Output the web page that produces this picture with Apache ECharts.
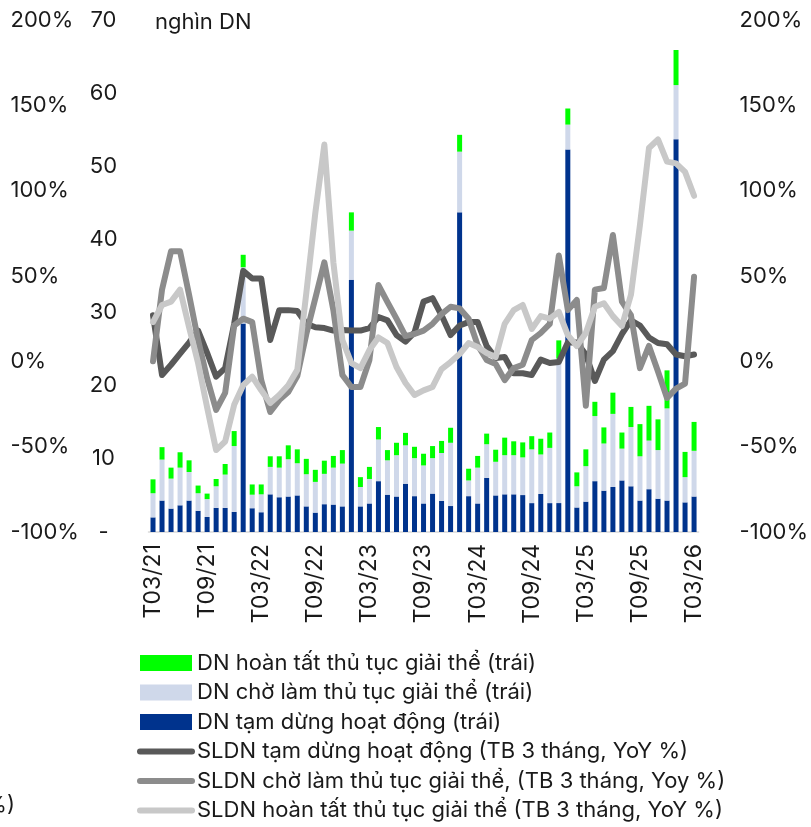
<!DOCTYPE html>
<html>
<head>
<meta charset="utf-8">
<script src="https://cdn.jsdelivr.net/npm/echarts@6/dist/echarts.min.js"></script>
<style>
  html, body { margin: 0; padding: 0; background: #fff; }
  #chart { width: 811px; height: 827px; }
</style>
</head>
<body>
<div id="chart"></div>
<script>
// thang 03/21 -> 03/26
const months = []
for (let y = 21; y <= 26; y++) {
  for (let m = 1; m <= 12; m++) {
    if (y === 21 && m < 3) continue
    if (y === 26 && m > 3) break
    months.push('T' + String(m).padStart(2, '0') + '/' + y)
  }
}

// nghin DN (truc trai)
const tamDung = [2.0, 4.3, 3.2, 3.65, 4.3, 2.9, 2.05, 3.3, 3.3, 2.75, 28.5, 3.25, 2.7, 5.15, 4.75, 4.85, 5.0, 3.5, 2.65, 3.8,
  3.75, 3.5, 34.5, 3.5, 3.9, 6.95, 5.1, 4.85, 6.6, 4.9, 3.9, 5.25, 4.25, 3.55, 43.7, 4.9, 3.9, 7.4, 5.0, 5.15,
  5.15, 5.05, 3.95, 5.2, 3.95, 3.95, 52.3, 3.35, 4.15, 6.95, 5.65, 6.15, 7.05, 6.25, 4.3, 5.85, 4.55, 4.3, 53.7, 4.05, 4.85]
const choGiaiThe = [3.3, 5.6, 4.1, 5.15, 3.9, 2.4, 2.45, 2.95, 4.55, 9.0, 7.7, 1.85, 2.45, 3.75, 4.05, 5.1, 4.4, 4.4, 4.2, 4.15,
  5.05, 5.85, 6.7, 2.65, 3.35, 5.7, 4.7, 5.65, 5.25, 5.2, 5.2, 4.85, 6.55, 8.65, 8.3, 2.15, 4.9, 4.6, 4.6, 5.35,
  5.35, 5.15, 7.35, 5.4, 7.55, 19.75, 3.4, 2.9, 4.85, 8.9, 6.45, 10.0, 4.35, 8.1, 6.05, 6.65, 6.65, 12.6, 7.4, 3.45, 6.25]
const hoanTat = [1.9, 1.7, 1.5, 2.1, 1.6, 1.05, 0.75, 1.0, 1.45, 2.05, 1.7, 1.4, 1.35, 1.45, 1.55, 1.9, 1.9, 2.1, 1.65, 1.8,
  1.6, 1.85, 2.5, 1.35, 1.65, 1.7, 1.4, 1.7, 1.7, 1.55, 1.6, 1.65, 1.65, 2.05, 2.3, 1.6, 1.6, 1.45, 1.65, 2.4,
  1.9, 2.05, 1.8, 2.15, 2.1, 2.5, 2.2, 1.9, 2.3, 1.95, 2.2, 2.9, 2.2, 2.75, 4.4, 4.75, 4.2, 5.2, 4.8, 3.45, 3.95]

// TB 3 thang, YoY % (truc phai)
const yoyTamDung = [27, -8, -2, 4.5, 11, 18, 5, -9, -4, 22, 53, 48.5, 48.5, 12.5, 30, 30, 29.5, 22, 20, 19.5,
  18, 18.3, 18, 18, 19.5, 26, 24, 15.4, 11.5, 17, 35, 37, 27, 15.4, 21, 23, 23, 9, 2, 2.5,
  -7, -7, -8, 1, -1, -0.4, 11, 11, 4, -11.5, 1, 6, 16, 24, 21, 14, 10.7, 10, 4, 3, 4]
const yoyCho = [0, 42, 64.5, 64.5, 39, 12.5, -10, -28.5, -18.5, 21, 25, 23, -11, -29.7, -22.7, -18, -8.6, 16, 37, 58,
  30, -8, -15, -15, 0.8, 44.7, 34.7, 25, 14.8, 16, 18, 22, 27.7, 32, 31, 25, 9.5, 0.8, -1.6, -11,
  -4, -2, 12.5, 16.6, 22, 62, 30, 36, -26, 42, 43, 74, 35, 27, -4, 9, -6, -21.5, -16, -13, 49.5]
const yoyHoanTat = [23, 33, 35, 42, 20, -1, -27, -52, -47, -25.5, -14, -9, -17, -24.4, -19.7, -14, -5, 40, 87, 127,
  58, 12.5, -1, -4, 6.6, 14, 10.7, -3.3, -12.7, -19.7, -17, -15, -4.5, -0.4, 4.3, 10.7, 8.4, 4.9, 2.5, 22,
  30, 33, 19, 26.5, 25, 29, 15.4, 9, 16.6, 32, 34, 26.5, 20.7, 39, 80, 125, 130, 117, 116, 111, 97]

const font = 'Inter'
const txt = '#1a1a1a'

const chart = echarts.init(document.getElementById('chart'))
const pctAxis = {
  type: 'value', min: -100, max: 200, interval: 50,
  splitLine: {show: false}, axisLine: {show: false}, axisTick: {show: false},
  axisLabel: {formatter: '{value}%', color: txt, fontSize: 22, fontFamily: font}
}
const lineSeries = (name, data, color) => ({
  name, type: 'line', yAxisIndex: 1, data,
  symbol: 'none', smooth: false,
  lineStyle: {color, width: 6, cap: 'round', join: 'round'},
  itemStyle: {color}
})
// legend cho duong: an cham tron, chi giu net day
const lineLegend = (name, color) => ({
  name,
  itemStyle: {opacity: 0},
  lineStyle: {color, width: 6, cap: 'round'}
})

chart.setOption({
  animation: false,
  textStyle: {fontFamily: font},
  title: {
    text: 'nghìn DN', left: 150, top: 6,
    textStyle: {fontSize: 22, fontWeight: 'normal', color: txt, fontFamily: font}
  },
  grid: {left: 148.5, right: 110.5, top: 20, bottom: 295},
  legend: {
    orient: 'vertical', left: 137, top: 652, height: 220, padding: 0,
    itemWidth: 52, itemHeight: 16, itemGap: 7.5,
    textStyle: {fontSize: 22, color: txt, fontFamily: font, lineHeight: 20},
    data: [
      {name: 'DN hoàn tất thủ tục giải thể (trái)', icon: 'rect'},
      {name: 'DN chờ làm thủ tục giải thể (trái)', icon: 'rect'},
      {name: 'DN tạm dừng hoạt động (trái)', icon: 'rect'},
      lineLegend('SLDN tạm dừng hoạt động (TB 3 tháng, YoY %)', '#595959'),
      lineLegend('SLDN chờ làm thủ tục giải thể, (TB 3 tháng, Yoy %)', '#8c8c8c'),
      lineLegend('SLDN hoàn tất thủ tục giải thể (TB 3 tháng, YoY %)', '#c8c8c8')
    ]
  },
  xAxis: {
    type: 'category', data: months,
    axisLine: {lineStyle: {color: '#d9d9d9', width: 1.5}},
    axisTick: {show: false},
    axisLabel: {interval: 5, rotate: 90, margin: 12, color: txt, fontSize: 23, fontFamily: font}
  },
  yAxis: [
    {
      type: 'value', min: 0, max: 70, interval: 10, position: 'left',
      splitLine: {show: false}, axisLine: {show: false}, axisTick: {show: false},
      axisLabel: {
        color: txt, fontSize: 22, fontFamily: font, align: 'center', margin: 45,
        formatter: v => v === 0 ? '-' : v
      }
    },
    Object.assign({}, pctAxis, {position: 'right', axisLabel: Object.assign({}, pctAxis.axisLabel, {align: 'left', margin: 41})}),
    Object.assign({}, pctAxis, {position: 'left', offset: 138, axisLabel: Object.assign({}, pctAxis.axisLabel, {align: 'left', margin: 0})})
  ],
  series: [
    {name: 'DN tạm dừng hoạt động (trái)', type: 'bar', stack: 'dn', barWidth: 5, data: tamDung, itemStyle: {color: '#00338d'}},
    {name: 'DN chờ làm thủ tục giải thể (trái)', type: 'bar', stack: 'dn', barWidth: 5, data: choGiaiThe, itemStyle: {color: '#cfd8ea'}},
    {name: 'DN hoàn tất thủ tục giải thể (trái)', type: 'bar', stack: 'dn', barWidth: 5, data: hoanTat, itemStyle: {color: '#00ff00'}},
    lineSeries('SLDN tạm dừng hoạt động (TB 3 tháng, YoY %)', yoyTamDung, '#595959'),
    lineSeries('SLDN chờ làm thủ tục giải thể, (TB 3 tháng, Yoy %)', yoyCho, '#8c8c8c'),
    lineSeries('SLDN hoàn tất thủ tục giải thể (TB 3 tháng, YoY %)', yoyHoanTat, '#c8c8c8')
  ],
  graphic: [{
    type: 'text', x: 15, y: 805,
    style: {text: '%)', align: 'right', verticalAlign: 'middle', fontSize: 22, fill: txt, fontFamily: font}
  }]
})
</script>
</body>
</html>
